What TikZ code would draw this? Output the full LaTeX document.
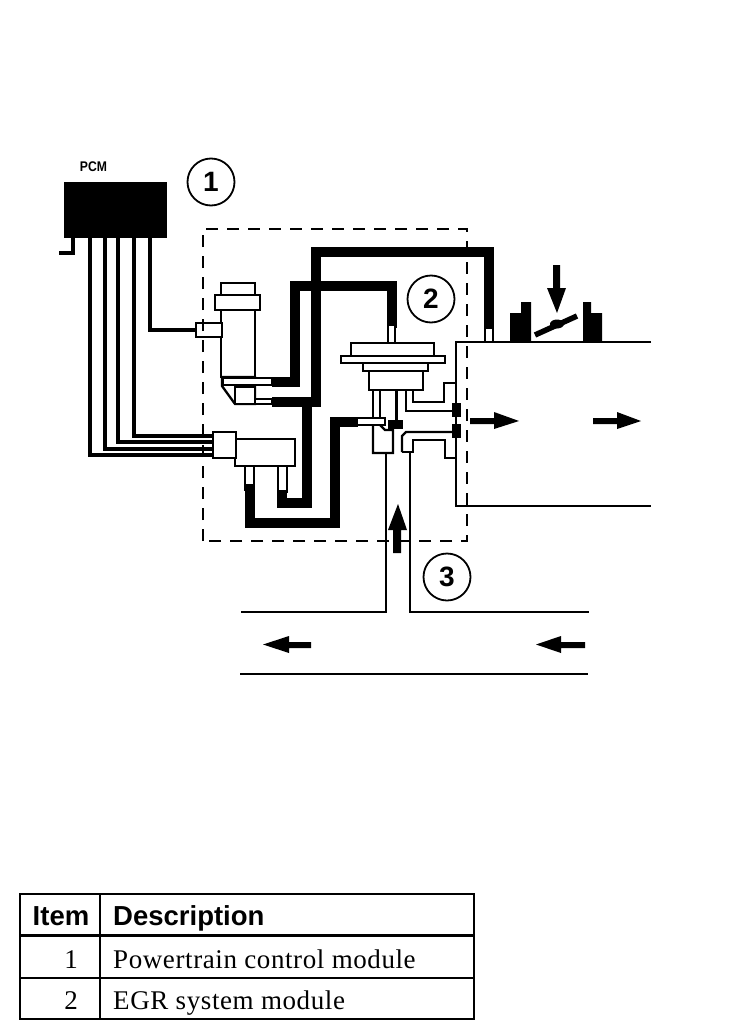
\documentclass[tikz,border=0pt]{standalone}
\usepackage{fontspec}
\setmainfont{Liberation Serif}
\setsansfont{Liberation Sans}
\newfontfamily\tablefont[LetterSpace=2.2]{Liberation Serif}
\tikzset{
  tube/.style={line width=10pt,miter limit=10},
  wire/.style={line width=4.5pt},
  part/.style={draw=black,fill=white,line width=2.3pt},
  outline/.style={line width=2.3pt},
  pipe/.style={line width=2.2pt},
  boundary/.style={line width=2.6pt,dash pattern=on 12pt off 9pt},
  flow/.style={fill=black},
  callout/.style={circle,draw=black,line width=1.8pt,minimum size=47pt,inner sep=0pt,font=\sffamily\bfseries\fontsize{28}{28}\selectfont},
  headtext/.style={inner sep=0pt,font=\sffamily\bfseries\fontsize{27.5}{27.5}\selectfont},
  celltext/.style={inner sep=0pt,font=\tablefont\fontsize{27}{27}\selectfont},
  rule/.style={line width=2.2pt},
  headrule/.style={line width=3pt}
}
\begin{document}
\begin{tikzpicture}[x=1pt,y=-1pt]
\useasboundingbox[fill=white] (0,0) rectangle (736,1036);

% PCM
\node[inner sep=0pt,font=\sffamily\bfseries\fontsize{14}{14}\selectfont,xscale=.87] (pcmlabel) at (93.5,167) {PCM};
\fill (64,182) rectangle (167,238);
\draw[line width=4.5pt] (73,238) -- (73,253) -- (59,253);
\draw[wire] (90,238) -- (90,455) -- (214,455);
\draw[wire] (105,238) -- (105,449) -- (214,449);
\draw[wire] (118,238) -- (118,442) -- (214,442);
\draw[wire] (134,238) -- (134,436) -- (214,436);
\draw[wire] (150,238) -- (150,330) -- (197,330);

% black tubes
\draw[tube] (272,382) -- (295,382) -- (295,286) -- (392,286) -- (392,328);
\draw[tube] (272,402) -- (316,402) -- (316,252) -- (489,252) -- (489,328);
\draw[tube] (307,402) -- (307,503) -- (282,503) -- (282,485);
\draw[tube] (249.5,482) -- (249.5,523) -- (335,523) -- (335,422) -- (358,422);

% manifold walls and throttle
\draw[pipe] (651,342) -- (456,342) -- (456,506) -- (651,506);
\fill (510,342) -- (510,313) -- (521,313) -- (521,302) -- (531,302) -- (531,342) -- cycle;
\fill (583,342) -- (583,302) -- (591,302) -- (591,313) -- (602,313) -- (602,342) -- cycle;
\draw[line width=5.5pt] (535,335) -- (577,316);
\fill (557,324) ellipse [x radius=7pt,y radius=4.5pt];

% solenoid valve
\draw[part] (221,283) rectangle (255,295);
\draw[part] (221,310) rectangle (255,377);
\draw[part] (215,295) rectangle (260,310);
\draw[part] (196,323) rectangle (222,337);
\draw[part] (222,377) -- (222,386) -- (235,404) -- (255,404) -- (255,377) -- cycle;
\draw[part] (235,387) rectangle (255,404);
\draw[part] (223,378) rectangle (272,385);
\draw[part] (255,399) rectangle (272,404);

% vacuum regulator
\draw[part] (245,465) rectangle (254,490);
\draw[part] (278,465) rectangle (287,492);
\draw[tube,line width=9pt] (249.5,484) -- (249.5,492);
\draw[tube,line width=9pt] (282.5,490) -- (282.5,500);
\draw[part] (235,439) rectangle (295,466);
\draw[part] (213,432) rectangle (236,458);

% EGR valve
\draw[part] (388,325) rectangle (395,343);
\draw[part] (485,328) rectangle (493,342);
\draw[outline] (373,390) -- (373,417);
\draw[outline] (380,390) -- (380,417);
\draw[line width=3pt] (396,390) -- (396,421);
\draw[part] (351,343) rectangle (434,356);
\draw[part] (341,356) rectangle (445,363);
\draw[part] (363,363) rectangle (428,371);
\draw[part] (369,371) rectangle (423,390);
\draw[part] (357,418) rectangle (385,425);
\draw[outline] (380,425) -- (385,430) -- (393,430) -- (393,453) -- (373,453) -- (373,425);
\fill (388,420) rectangle (403,429);
% right side ports
\draw[outline] (406,390) -- (406,411) -- (453,411);
\draw[outline] (413,390) -- (413,402) -- (444,402) -- (444,383) -- (456,383);
\draw[outline] (402,452) -- (402,436) -- (406,432) -- (453,432);
\draw[outline] (402,452) -- (413,452) -- (413,440) -- (445,440) -- (445,458) -- (456,458);
\fill (452,403) rectangle (461,417);
\fill (452,424) rectangle (461,438);

% exhaust riser and pipe
\draw[pipe] (386,453) -- (386,612) -- (241,612);
\draw[pipe] (410,452) -- (410,612) -- (589,612);
\draw[pipe] (240,674) -- (588,674);

% boundary of module
\draw[boundary] (203,541) -- (203,229) -- (467,229) -- (467,541) -- cycle;

% flow arrows
\fill[flow] (553,265) -- (560,265) -- (560,288) -- (566,288) -- (557,313) -- (547,288) -- (553,288) -- cycle;
\fill[flow] (470,418) -- (494,418) -- (494,412) -- (519,421) -- (494,429) -- (494,424) -- (470,424) -- cycle;
\fill[flow] (593,418) -- (617,418) -- (617,412) -- (641,421) -- (617,429) -- (617,424) -- (593,424) -- cycle;
\fill[flow] (393,553) -- (401,553) -- (401,530) -- (407,530) -- (398,504) -- (388,530) -- (393,530) -- cycle;
\fill[flow] (311,642) -- (289,642) -- (289,636) -- (263,644.5) -- (289,653) -- (289,648) -- (311,648) -- cycle;
\fill[flow] (585,642) -- (561,642) -- (561,636) -- (536,644.5) -- (561,653) -- (561,648) -- (585,648) -- cycle;

% callouts
\node[callout] (c1) at (211,182) {1};
\node[callout] (c2) at (431,299) {2};
\node[callout] (c3) at (447,577) {3};

% table
\draw[rule] (20,894) rectangle (474,1019);
\draw[rule] (100,894) -- (100,1019);
\draw[headrule] (20,935) -- (474,935);
\draw[rule] (20,978) -- (474,978);
\node[headtext,anchor=base] (hitem) at (61,925) {Item};
\node[headtext,anchor=base west] (hdesc) at (113,925) {Description};
\node[celltext,anchor=base east] (n1) at (78,968) {1};
\node[celltext,anchor=base west] (d1) at (113,968) {Powertrain control module};
\node[celltext,anchor=base east] (n2) at (78,1009) {2};
\node[celltext,anchor=base west] (d2) at (113,1009) {EGR system module};
\end{tikzpicture}
\end{document}
